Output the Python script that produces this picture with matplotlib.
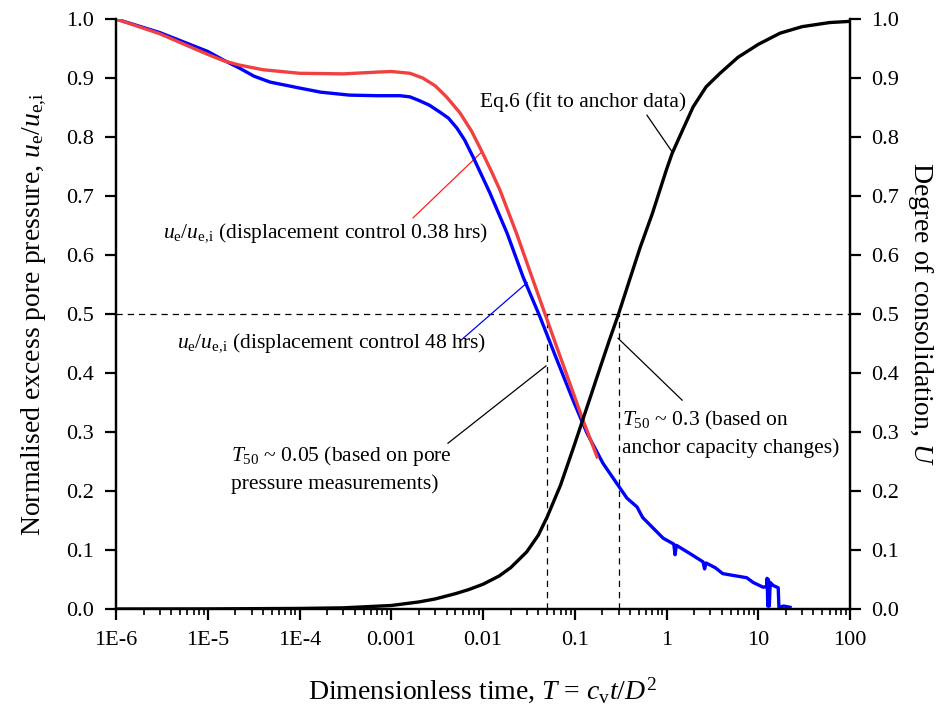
import numpy as np
import matplotlib
matplotlib.use("Agg")
import matplotlib.pyplot as plt
from matplotlib.ticker import FixedLocator, FixedFormatter, LogLocator, NullFormatter

plt.rcParams['font.family'] = ['Liberation Serif', 'DejaVu Serif']
plt.rcParams['mathtext.fontset'] = 'custom'
plt.rcParams['mathtext.rm'] = 'Liberation Serif'
plt.rcParams['mathtext.it'] = 'Liberation Serif:italic'

# displacement control 0.38 hrs (red)
t_red = [1e-6, 3e-6, 1e-5, 1.5e-5, 2.2e-5, 4e-5, 1e-4, 3e-4, 7e-4, 1e-3, 1.6e-3,
         2.2e-3, 3e-3, 4e-3, 5.6e-3, 7.5e-3, 9.75e-3, 0.0125, 0.0153, 0.0234,
         0.0325, 0.045, 0.064, 0.089, 0.123, 0.175]
u_red = [1.0, 0.975, 0.94, 0.929, 0.922, 0.914, 0.908, 0.907, 0.91, 0.911, 0.908,
         0.9, 0.887, 0.868, 0.841, 0.81, 0.775, 0.74, 0.71, 0.635,
         0.572, 0.51, 0.443, 0.381, 0.32, 0.258]

# displacement control 48 hrs (blue)
t_blue = [1e-6, 3e-6, 1e-5, 1.5e-5, 2.2e-5, 3.2e-5, 4.8e-5, 1e-4, 1.7e-4, 3.5e-4,
          7e-4, 1.25e-3, 1.6e-3, 2e-3, 2.6e-3, 3.4e-3, 4.2e-3, 5.2e-3, 6.3e-3,
          7.8e-3, 0.0119, 0.0183, 0.0273, 0.0418, 0.064, 0.0957, 0.136, 0.203,
          0.311, 0.37, 0.477, 0.55, 0.92, 1.2, 1.24, 1.28, 1.8, 2.5, 2.6, 2.7,
          3.4, 4.1, 5.3, 7.5, 8.8, 11.3, 12.3, 12.5, 12.7, 12.9, 13.2, 13.5,
          14.5, 16.5, 16.8, 19, 22.2]
u_blue = [1.0, 0.977, 0.945, 0.93, 0.917, 0.903, 0.893, 0.883, 0.876, 0.871,
          0.87, 0.87, 0.868, 0.862, 0.854, 0.842, 0.832, 0.815, 0.795,
          0.766, 0.705, 0.637, 0.563, 0.495, 0.422, 0.354, 0.298, 0.247,
          0.205, 0.188, 0.173, 0.155, 0.12, 0.11, 0.092, 0.108, 0.094, 0.08, 0.068, 0.078,
          0.07, 0.06, 0.057, 0.053, 0.045, 0.037, 0.038, 0.052, 0.005, 0.05, 0.005, 0.045,
          0.04, 0.036, 0.003, 0.005, 0.003]

# Eq.6 fit (degree of consolidation, right axis)
t_eq = [1e-6, 1e-5, 1e-4, 3e-4, 1e-3, 2e-3, 3e-3, 5e-3, 7e-3, 0.01, 0.015, 0.02,
        0.03, 0.04, 0.05, 0.07, 0.1, 0.123, 0.15, 0.188, 0.24, 0.3, 0.4, 0.514,
        0.7, 1.0, 1.15, 1.5, 1.95, 2.7, 3.83, 6, 10, 17.3, 30, 60, 100]
U_eq = [0.0, 0.0002, 0.001, 0.002, 0.006, 0.012, 0.017, 0.026, 0.033, 0.042, 0.056, 0.07,
        0.097, 0.125, 0.156, 0.21, 0.28, 0.322, 0.362, 0.408, 0.457, 0.5, 0.56, 0.612,
        0.67, 0.745, 0.772, 0.812, 0.851, 0.885, 0.908, 0.935, 0.957, 0.976, 0.987, 0.994, 0.996]

xticks = [1e-6, 1e-5, 1e-4, 1e-3, 1e-2, 1e-1, 1, 10, 100]
xticklabels = ['1E-6', '1E-5', '1E-4', '0.001', '0.01', '0.1', '1', '10', '100']
yticks = [0.0, 0.1, 0.2, 0.3, 0.4, 0.5, 0.6, 0.7, 0.8, 0.9, 1.0]
yticklabels = ['%.1f' % v for v in yticks]

T50_pore = 0.05
T50_anchor = 0.3

fig = plt.figure(figsize=(9.41, 7.17), dpi=100)
ax = fig.add_axes([0.1233, 0.1506, 0.78, 0.8229])
ax2 = ax.twinx()

ax.plot(t_blue, u_blue, color='#0000ff', lw=2.4, zorder=3)
ax.plot(t_red, u_red, color='#f04040', lw=2.4, zorder=4)
ax2.plot(t_eq, U_eq, color='black', lw=2.4)

# reference lines
ax.plot([1e-6, 100], [0.5, 0.5], color='black', lw=0.9, ls=(0, (5, 4)))
ax.plot([T50_pore, T50_pore], [0, 0.5], color='black', lw=0.9, ls=(0, (5, 4)))
ax.plot([T50_anchor, T50_anchor], [0, 0.5], color='black', lw=0.9, ls=(0, (5, 4)))

ax.set_xscale('log')
ax.set_xlim(1e-6, 100)
ax.set_ylim(0, 1)
ax2.set_ylim(0, 1)

ax.xaxis.set_major_locator(FixedLocator(xticks))
ax.xaxis.set_major_formatter(FixedFormatter(xticklabels))
ax.xaxis.set_minor_locator(LogLocator(base=10, subs=np.arange(2, 10)))
ax.xaxis.set_minor_formatter(NullFormatter())
for a in (ax, ax2):
    a.yaxis.set_major_locator(FixedLocator(yticks))
    a.yaxis.set_major_formatter(FixedFormatter(yticklabels))
    a.spines['top'].set_visible(False)
    for s in a.spines.values():
        s.set_linewidth(1.6)

ax.tick_params(axis='x', which='major', direction='out', length=8, width=1.6,
               labelsize=16, pad=8)
ax.tick_params(axis='x', which='minor', direction='out', length=4.5, width=1.2)
ax.tick_params(axis='y', direction='out', length=8, width=1.6, labelsize=16, pad=8)
ax2.tick_params(axis='y', direction='out', length=8, width=1.6, labelsize=16, pad=7)

ax.set_xlabel(r'Dimensionless time, $T$ = $c_\mathrm{v}t/D^2$', fontsize=20, labelpad=18)
ax.set_ylabel(r'Normalised excess pore pressure, $u_\mathrm{e}/u_\mathrm{e{,}i}$', fontsize=20, labelpad=12)
ax2.set_ylabel(r'Degree of consolidation, $U$', fontsize=20, rotation=270, labelpad=26)

# annotations
fs = 15.5
ax2.text(0.00927, 0.859, 'Eq.6 (fit to anchor data)', fontsize=fs, va='center', ha='left')
ax2.plot([0.612, 1.15], [0.837, 0.775], color='black', lw=0.9)

ax.text(3.25e-6, 0.637, r'$u_\mathrm{e}/u_\mathrm{e{,}i}$ (displacement control 0.38 hrs)',
        fontsize=fs, va='center', ha='left')
ax.plot([1.73e-3, 0.00975], [0.663, 0.775], color='#ff2020', lw=0.9)

ax.text(4.6e-6, 0.451, r'$u_\mathrm{e}/u_\mathrm{e{,}i}$ (displacement control 48 hrs)',
        fontsize=fs, va='center', ha='left')
ax.plot([5.6e-3, 0.0302], [0.454, 0.553], color='#0000ff', lw=0.9)

ax.text(1.79e-5, 0.237, '$T_{50}$ ~ 0.05 (based on pore\npressure measurements)',
        fontsize=fs, va='center', ha='left', linespacing=1.45)
ax.plot([4.15e-3, 0.0486], [0.281, 0.412], color='black', lw=0.9)

ax.text(0.327, 0.298, '$T_{50}$ ~ 0.3 (based on\nanchor capacity changes)',
        fontsize=fs, va='center', ha='left', linespacing=1.45)
ax.plot([0.296, 1.48], [0.459, 0.354], color='black', lw=0.9)

fig.savefig('out.png', dpi=100)
